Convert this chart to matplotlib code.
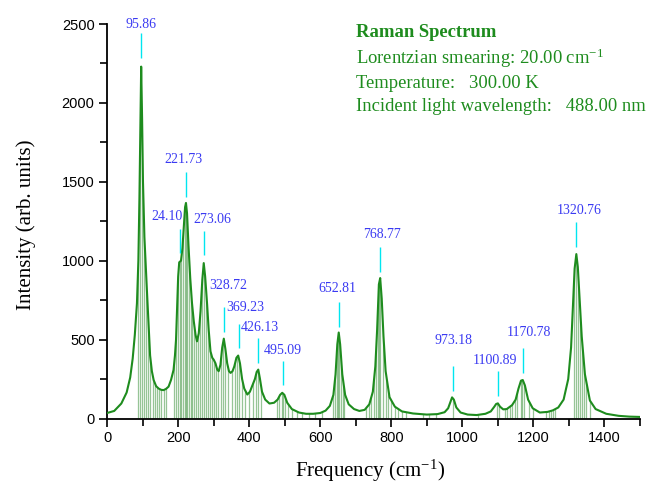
import numpy as np
import matplotlib.pyplot as plt
from matplotlib.patches import Polygon
from matplotlib.ticker import MultipleLocator

plt.rcParams['mathtext.fontset'] = 'custom'
plt.rcParams['mathtext.rm'] = 'Liberation Serif'
plt.rcParams['mathtext.it'] = 'Liberation Serif:italic'
plt.rcParams['mathtext.bf'] = 'Liberation Serif:bold'

# smeared spectrum (frequency in cm-1, intensity)
freq = [0, 20, 40, 55, 65, 72, 78, 84, 88, 91, 93.5, 95.9, 98.5, 101, 105, 109, 112,
        116.5, 121, 126, 131, 138, 145, 152, 159, 166, 173, 180, 187, 191, 194, 197,
        200, 203, 208, 212, 216, 219.5, 222, 225, 229, 234, 239, 244, 249, 253, 258,
        263, 268, 272, 276, 281.6, 286, 291, 296, 300, 305, 310, 314, 319, 324, 328.5,
        333, 338, 343, 347.5, 353, 358, 364, 369, 374, 380, 386, 394.7, 402, 410, 416,
        421, 425.5, 430, 436, 445, 457, 470, 480, 487, 493, 499, 507, 520, 540, 560,
        580, 600, 615, 627, 637, 643, 648, 652, 656, 662, 670, 680, 695, 710, 725, 738,
        748, 755, 760, 765, 768.7, 773, 778, 784, 795, 810, 830, 861, 900, 930, 950,
        960, 967, 971, 976, 983, 995, 1015, 1040, 1065, 1080, 1090, 1095, 1100, 1106,
        1115, 1125, 1140, 1150, 1158, 1165, 1170, 1176, 1185, 1198, 1218, 1240, 1255,
        1270, 1285, 1298, 1306, 1312, 1316, 1320.8, 1325, 1330, 1336, 1345, 1359, 1375,
        1405, 1440, 1470, 1500]
intensity = [35, 48, 95, 165, 260, 380, 530, 730, 1000, 1400, 1850, 2230, 1900, 1500,
             1150, 950, 815, 603, 400, 300, 244, 205, 190, 182, 180, 188, 202, 245, 308,
             400, 500, 710, 900, 990, 1000, 1080, 1220, 1340, 1366, 1300, 1100, 890, 730,
             616, 530, 489, 540, 680, 880, 985, 900, 721, 560, 426, 385, 373, 350, 310,
             300, 340, 450, 506, 440, 350, 300, 289, 300, 330, 385, 399, 350, 250, 190,
             152, 170, 215, 250, 295, 310, 255, 170, 120, 95, 100, 120, 150, 163, 150,
             100, 60, 38, 30, 30, 35, 50, 80, 150, 280, 470, 545, 470, 280, 150, 90, 60,
             48, 55, 90, 170, 330, 560, 850, 890, 760, 520, 300, 135, 75, 45, 32, 25, 28,
             40, 65, 110, 134, 120, 70, 38, 25, 22, 30, 45, 75, 92, 96, 75, 58, 60, 85,
             120, 190, 240, 244, 210, 120, 65, 38, 42, 52, 70, 120, 250, 450, 750, 950,
             1042, 960, 760, 520, 280, 114, 60, 30, 17, 12, 10]

# mode frequencies (drop lines under the curve)
stick_freqs = [86, 92, 99, 104, 110, 116, 122, 128, 134, 140, 147, 153, 160, 166,
               188, 194, 199, 204, 209, 214, 218, 222, 226, 231, 236, 240, 245, 250,
               256, 262, 268, 272, 277, 283, 290, 296, 300, 306, 313, 320, 327, 333,
               340, 352, 360, 366, 372, 380, 387, 400, 410, 420, 426, 432, 479, 485,
               491, 496, 500, 508, 520, 535, 550, 567, 585, 605, 635, 641, 646, 650,
               654, 658, 663, 668, 729, 736, 744, 752, 758, 762, 766, 769, 778, 785,
               792, 800, 810, 820, 830, 842, 888, 905, 925, 973, 1045, 1097, 1104,
               1120, 1127, 1134, 1141, 1148, 1155, 1164, 1169, 1174, 1188, 1200, 1235,
               1243, 1250, 1256, 1262, 1315, 1320, 1325, 1331, 1337, 1343, 1349, 1360]

# peak annotations
peak_labels = ['95.86', '221.73', '24.10', '273.06', '328.72', '369.23', '426.13',
               '495.09', '652.81', '768.77', '973.18', '1100.89', '1170.78', '1320.76']
peak_line_x = [95.9, 222, 204, 272, 328.5, 370, 425.8, 495.3, 653.7, 768.7, 974,
               1099.5, 1170, 1321]
peak_line_y = [2285, 1406, 1049, 1036, 550, 445, 354, 212, 582, 930, 176, 143, 290, 1089]
label_x = [95.9, 215.4, 168.5, 295.7, 341, 388, 430.3, 495.3, 647, 773.5, 976, 1092,
           1186, 1327.7]
label_y = [2500, 1643, 1279, 1258, 840, 702, 578, 434, 825, 1169, 497, 366, 546, 1321]

green = '#1e8c1e'
serif = 'Liberation Serif'
sans = 'Liberation Sans'

fig = plt.figure(figsize=(6.46, 4.83), dpi=100)
ax = fig.add_axes([0.1658, 0.1335, 0.8249, 0.8168])

ax.plot(freq, intensity, color=green, lw=1.5, zorder=3)

# area under the curve, used only to clip the sticks
under = Polygon(np.column_stack([[freq[0]] + freq + [freq[-1]], [0] + intensity + [0]]),
                closed=True, facecolor='none', edgecolor='none')
ax.add_patch(under)
sticks = ax.vlines(stick_freqs, 0, 2500, colors='#2e8b2e', lw=0.9, alpha=0.5, zorder=2)
sticks.set_clip_path(under)

# cyan markers and blue peak labels
ax.vlines(peak_line_x, peak_line_y, np.array(peak_line_y) + 155, colors='#00e6f0',
          lw=1.0, zorder=4, clip_on=False)
for lab, tx, ty in zip(peak_labels, label_x, label_y):
    ax.text(tx, ty, lab, ha='center', va='center', color='#3a3af2', fontsize=10,
            family=serif, clip_on=False)

ax.set_xlim(0, 1500)
ax.set_ylim(0, 2500)
ax.xaxis.set_major_locator(MultipleLocator(200))
ax.xaxis.set_minor_locator(MultipleLocator(100))
ax.yaxis.set_major_locator(MultipleLocator(500))
ax.yaxis.set_minor_locator(MultipleLocator(250))
ax.tick_params(which='major', direction='out', length=6, width=1.2, labelsize=10.5, pad=3)
ax.tick_params(which='minor', direction='out', length=5, width=1.2)
for t in ax.get_xticklabels() + ax.get_yticklabels():
    t.set_family(sans)

ax.spines['top'].set_visible(False)
ax.spines['right'].set_visible(False)
ax.spines['left'].set_linewidth(1.3)
ax.spines['bottom'].set_linewidth(1.3)

ax.set_xlabel('Frequency (cm$^{-1}$)', family=serif, fontsize=15)
ax.set_ylabel('Intensity (arb. units)', family=serif, fontsize=15)
ax.xaxis.set_label_coords(0.493, -0.10)
ax.yaxis.set_label_coords(-0.133, 0.49)

# info block, top right
fig.text(0.551, 0.9317, 'Raman Spectrum', family=serif, fontsize=13.4, fontweight='bold',
         color=green, va='center')
fig.text(0.551, 0.880, 'Lorentzian smearing: 20.00 cm$^{-1}$', family=serif, fontsize=13.4,
         color=green, va='center')
fig.text(0.551, 0.828, 'Temperature:   300.00 K', family=serif, fontsize=13.4,
         color=green, va='center')
fig.text(0.551, 0.7785, 'Incident light wavelength:   488.00 nm', family=serif,
         fontsize=13.4, color=green, va='center')

fig.savefig('out.png', dpi=100)
